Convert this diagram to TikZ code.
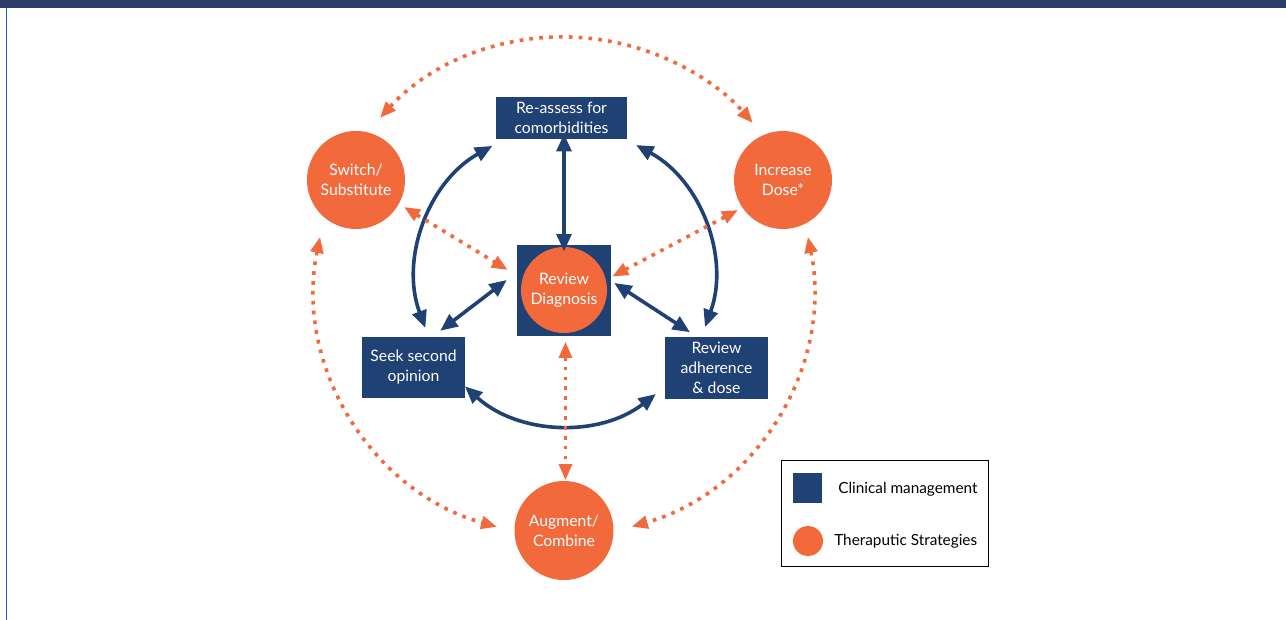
\documentclass[tikz,border=0pt]{standalone}
\usepackage{fontspec}
\setmainfont{Lato}
\usetikzlibrary{arrows.meta,calc}
\definecolor{navy}{HTML}{1F4173}
\definecolor{orng}{HTML}{F2693C}
\definecolor{barblue}{HTML}{2C3E67}
\definecolor{lineblue}{HTML}{1F5CC0}
\begin{document}
\begin{tikzpicture}[x=0.75pt,y=-0.75pt,
  clin/.style={rectangle, fill=navy, text=white, inner sep=0pt, align=center,
    font=\fontsize{11.8}{15}\selectfont},
  ther/.style={circle, fill=orng, text=white, inner sep=0pt, align=center,
    minimum size=73.5pt, font=\fontsize{11.8}{15}\selectfont},
  barrow/.style={draw=navy, line width=2.7pt,
    {Triangle[length=13pt,width=11pt]}-{Triangle[length=13pt,width=11pt]}},
  oarrow/.style={draw=orng, line width=2.7pt, dash pattern=on 2.8pt off 4.6pt,
    {Triangle[length=12pt,width=9.5pt]}-{Triangle[length=12pt,width=9.5pt]}},
  legtext/.style={anchor=west, text=black, inner sep=0pt, font=\fontsize{11.5}{13}\selectfont}
]
\useasboundingbox (0,0) rectangle (1286,620);
\fill[barblue] (0,0) rectangle (1286,8);
\draw[lineblue, line width=1.3pt] (6.5,8) -- (6.5,620);

% nodes
\node[clin, minimum width=98.25pt, minimum height=31.5pt] (reassess) at (561.5,118) {Re-assess for\\comorbidities};
\node[clin, minimum width=70.5pt, minimum height=68.25pt] (diagbox) at (564,290.5) {};
\node[ther, minimum size=64.5pt] (diag) at (564,290) {Review\\Diagnosis};
\node[clin, minimum width=77.25pt, minimum height=45.75pt] (seek) at (413.5,367.5) {Seek second\\opinion};
\node[clin, minimum width=77.25pt, minimum height=46.5pt] (adh) at (716.5,368) {Review\\adherence\\\& dose};
\node[ther] (switch) at (356,180) {Switch/\\Substitute};
\node[ther] (incr) at (783,180) {Increase\\Dose*};
\node[ther, minimum size=74.25pt] (aug) at (564,530.5) {Augment/\\Combine};

\coordinate (bc) at (565,276);
\coordinate (oc) at (564,287);

% blue straight connectors
\draw[barrow] ([yshift=4]diagbox.north |- reassess.south) -- ([yshift=-5]diagbox.north);
\draw[barrow] ([shift={(-25,-6)}]seek.north east) -- ([shift={(-10,-10.5)}]diagbox.west);
\draw[barrow] ([shift={(3,-7.5)}]diagbox.east) -- ([shift={(-26.5,-4.5)}]adh.north);

% blue arcs
\draw[barrow] ($(bc)+(159.6:149)$) arc[start angle=159.6, end angle=240.8, radius=149];
\draw[barrow] ($(bc)+(-61.5:149)$) arc[start angle=-61.5, end angle=20, radius=149];
\draw[barrow] ($(bc)+(132.2:149)$) arc[start angle=132.2, end angle=52.4, radius=149];

% orange straight connectors
\draw[oarrow] ([shift={(48,27)}]switch.center) -- ([shift={(-9,-20.5)}]diagbox.west);
\draw[oarrow] ([shift={(-45,30)}]incr.center) -- ([shift={(1,-14)}]diagbox.east);
\draw[oarrow] ([shift={(1.5,5.5)}]diagbox.south) -- ([shift={(1.5,-0.5)}]aug.north);

% orange outer arcs
\draw[oarrow] ($(oc)+(-137.4:250)$) arc[start angle=-137.4, end angle=-41, radius=250];
\draw[oarrow] ($(oc)+(191.6:249)$) arc[start angle=191.6, end angle=105.6, radius=249];
\draw[oarrow] ($(oc)+(-11.6:249)$) arc[start angle=-11.6, end angle=74.2, radius=249];

% legend
\node[draw=black, line width=1.1pt, minimum width=155.25pt, minimum height=79.5pt, inner sep=0pt] (legend) at (885,513.5) {};
\node[rectangle, fill=navy, minimum width=22pt, minimum height=22.5pt, inner sep=0pt] (legsq) at (807.5,488) {};
\node[circle, fill=orng, minimum size=22.5pt, inner sep=0pt] (legci) at (808,541) {};
\node[legtext] (legt1) at (838,489) {Clinical management};
\node[legtext] (legt2) at (834,541) {Theraputic Strategies};
\end{tikzpicture}
\end{document}
